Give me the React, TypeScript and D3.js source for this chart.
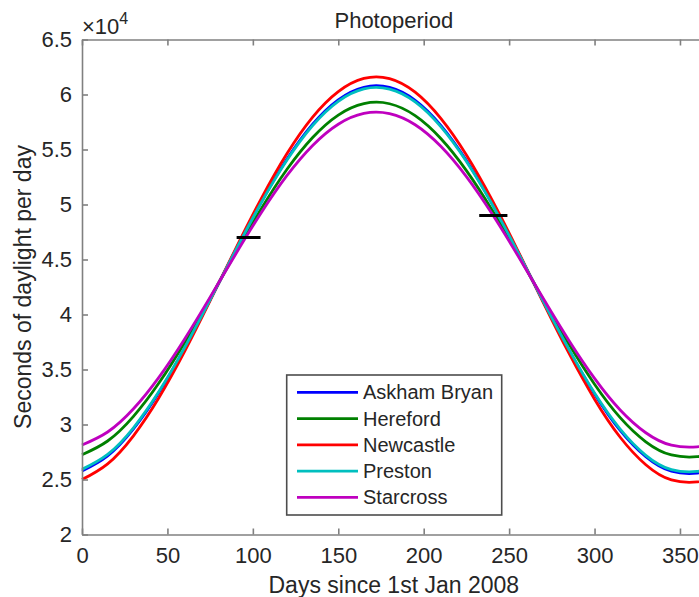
import React, { useEffect, useRef } from 'react';
import * as d3 from 'd3';

// day of year for each sample
const days = [0, 15, 30, 45, 60, 75, 90, 105, 120, 135, 150, 165, 180, 195, 210, 225, 240, 255, 270, 285, 300, 315, 330, 345, 360, 366];

// seconds of daylight per day
const askhamBryan = [25770, 27140, 29570, 32900, 36910, 41330, 45870, 50240, 54130, 57300, 59520, 60660, 60640, 59470, 57200, 54000, 50090, 45730, 41180, 36770, 32780, 29460, 27070, 25750, 25580, 25840];
const hereford = [27250, 28500, 30720, 33770, 37440, 41490, 45640, 49630, 53200, 56090, 58130, 59170, 59160, 58080, 56000, 53080, 49500, 45510, 41350, 37310, 33660, 30620, 28430, 27230, 27070, 27310];
const newcastle = [24990, 26420, 28950, 32430, 36620, 41250, 46000, 50560, 54630, 57940, 60260, 61460, 61440, 60210, 57830, 54500, 50410, 45840, 41090, 36480, 32300, 28840, 26340, 24960, 24780, 25060];
const preston = [25920, 27280, 29680, 32990, 36960, 41350, 45850, 50180, 54040, 57180, 59380, 60510, 60490, 59330, 57080, 53910, 50030, 45700, 41200, 36830, 32860, 29580, 27200, 25900, 25730, 25990];
const starcross = [28140, 29320, 31410, 34290, 37760, 41580, 45500, 49270, 52640, 55370, 57300, 58280, 58260, 57250, 55290, 52530, 49150, 45380, 41450, 37640, 34190, 31320, 29250, 28120, 27970, 28190];

const seriesNames = ['Askham Bryan', 'Hereford', 'Newcastle', 'Preston', 'Starcross'];
const seriesValues = [askhamBryan, hereford, newcastle, preston, starcross];
const seriesColors = ['#0000ff', '#008000', '#ff0000', '#00bfbf', '#bf00bf'];

// short black marks
const markDays = [[90.5, 104.5], [232.5, 249]];
const markValues = [47000, 49000];

const xTicks = [0, 50, 100, 150, 200, 250, 300, 350];
const yTicks = [20000, 25000, 30000, 35000, 40000, 45000, 50000, 55000, 60000, 65000];
const yTickLabels = ['2', '2.5', '3', '3.5', '4', '4.5', '5', '5.5', '6', '6.5'];

const font = '"Liberation Sans", Arial, Helvetica, sans-serif';
const textColor = '#262626';
const axisColor = '#808080';

const App = () => {
  const svgRef = useRef<SVGSVGElement>(null);

  useEffect(() => {
    const width = 699;
    const height = 597;
    const left = 82;
    const right = 705.6;
    const top = 39.5;
    const bottom = 534.5;

    const svg = d3.select(svgRef.current);
    svg.selectAll('*').remove();

    const x = d3.scaleLinear().domain([0, 365]).range([left, right]);
    const y = d3.scaleLinear().domain([20000, 65000]).range([bottom, top]);

    svg.append('rect').attr('width', width).attr('height', height).attr('fill', '#fff');

    const line = d3
      .line<number>()
      .x((d, i) => x(days[i]))
      .y((d) => y(d))
      .curve(d3.curveNatural);

    seriesValues.forEach((vals, i) => {
      svg
        .append('path')
        .datum(vals)
        .attr('fill', 'none')
        .attr('stroke', seriesColors[i])
        .attr('stroke-width', 2.8)
        .attr('d', line);
    });

    markDays.forEach((d, i) => {
      svg
        .append('line')
        .attr('x1', x(d[0]))
        .attr('x2', x(d[1]))
        .attr('y1', y(markValues[i]))
        .attr('y2', y(markValues[i]))
        .attr('stroke', '#000')
        .attr('stroke-width', 3);
    });

    const styleAxis = (g) => {
      g.selectAll('path').attr('stroke', axisColor).attr('stroke-width', 1.6);
      g.selectAll('line').attr('stroke', axisColor).attr('stroke-width', 1.6);
      g.selectAll('text').attr('fill', textColor).style('font-family', font).style('font-size', '22px');
    };

    svg
      .append('g')
      .attr('transform', `translate(0,${bottom})`)
      .call(d3.axisBottom(x).tickValues(xTicks).tickSizeInner(-6).tickSizeOuter(0).tickPadding(13))
      .call(styleAxis);

    svg
      .append('g')
      .attr('transform', `translate(0,${top})`)
      .call(d3.axisTop(x).tickValues(xTicks).tickSizeInner(-6).tickSizeOuter(0).tickFormat(() => ''))
      .call(styleAxis);

    svg
      .append('g')
      .attr('transform', `translate(${left},0)`)
      .call(
        d3
          .axisLeft(y)
          .tickValues(yTicks)
          .tickSizeInner(-6)
          .tickSizeOuter(0)
          .tickPadding(10)
          .tickFormat((d, i) => yTickLabels[i])
      )
      .call(styleAxis);

    svg
      .append('g')
      .attr('transform', `translate(${right},0)`)
      .call(d3.axisRight(y).tickValues(yTicks).tickSizeInner(-6).tickSizeOuter(0).tickFormat(() => ''))
      .call(styleAxis);

    // exponent label
    const expo = svg.append('text').attr('x', left).attr('y', 34).attr('fill', textColor).style('font-family', font);
    expo.append('tspan').style('font-size', '22px').text('\u00d710');
    expo.append('tspan').style('font-size', '16px').attr('dy', -10).text('4');

    svg
      .append('text')
      .attr('x', (left + right) / 2)
      .attr('y', 28)
      .attr('text-anchor', 'middle')
      .attr('fill', textColor)
      .style('font-family', font)
      .style('font-size', '22px')
      .text('Photoperiod');

    svg
      .append('text')
      .attr('x', (left + right) / 2)
      .attr('y', 593)
      .attr('text-anchor', 'middle')
      .attr('fill', textColor)
      .style('font-family', font)
      .style('font-size', '23px')
      .text('Days since 1st Jan 2008');

    svg
      .append('text')
      .attr('transform', `translate(31,${(top + bottom) / 2}) rotate(-90)`)
      .attr('text-anchor', 'middle')
      .attr('fill', textColor)
      .style('font-family', font)
      .style('font-size', '23px')
      .text('Seconds of daylight per day');

    // legend
    const legend = svg.append('g');
    legend
      .append('rect')
      .attr('x', 286.7)
      .attr('y', 375)
      .attr('width', 215)
      .attr('height', 140)
      .attr('fill', '#fff')
      .attr('stroke', '#4d4d4d')
      .attr('stroke-width', 1.6);

    const rowY = d3.scalePoint().domain(seriesNames).range([392.3, 497.3]);
    seriesNames.forEach((name, i) => {
      legend
        .append('line')
        .attr('x1', 297)
        .attr('x2', 358)
        .attr('y1', rowY(name))
        .attr('y2', rowY(name))
        .attr('stroke', seriesColors[i])
        .attr('stroke-width', 2.8);
      legend
        .append('text')
        .attr('x', 363)
        .attr('y', rowY(name))
        .attr('dy', '0.35em')
        .attr('fill', textColor)
        .style('font-family', font)
        .style('font-size', '20px')
        .text(name);
    });
  }, []);

  return (
    <svg
      ref={svgRef}
      width={699}
      height={597}
      style={{ position: 'absolute', left: 0, top: 0, overflow: 'hidden' }}
    />
  );
};

export default App;
